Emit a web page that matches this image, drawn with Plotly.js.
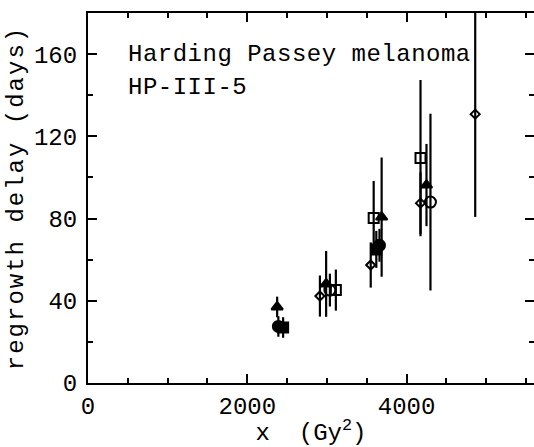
<!DOCTYPE html>
<html>
<head>
<meta charset="utf-8">
<script src="https://cdn.plot.ly/plotly-3.0.1.min.js"></script>
<style>
html,body{margin:0;padding:0;overflow:hidden;background:#fff;}
#chart{width:538px;height:447px;}
.ytitle{letter-spacing:2px;}
.annotation-text{letter-spacing:0.5px;}
</style>
</head>
<body>
<div id="chart"></div>
<script>
// Open diamonds
const diamondX = [2912, 3550, 4175, 4862];
const diamondY = [42.3, 57.4, 87.5, 130.8];
const diamondErr = [10, 11, 15, 50];
// Open squares
const squareX = [3112, 3587, 4175];
const squareY = [45.2, 80.3, 109.4];
const squareErr = [10, 18, 38];
// Open circles
const circleX = [3037, 4300];
const circleY = [45.2, 88];
const circleErr = [8, 43];
// Filled triangles
const triX = [2375, 2990, 3687, 4250];
const triY = [37, 48.2, 80.7, 96.3];
const triErr = [5, 16, 29, 20];
// Filled circles
const fcircX = [2390, 3660];
const fcircY = [27.5, 67];
const fcircErr = [5, 8];
// Filled squares
const fsqX = [2450, 3620];
const fsqY = [27, 65];
const fsqErr = [5, 9];

const xTicks = [0, 2000, 4000];
const yTicks = [0, 40, 80, 120, 160];
const label1 = "Harding Passey melanoma";
const label2 = "HP-III-5";

function series(x, y, err, symbol, size) {
  return {
    type: 'scatter', mode: 'markers', x: x, y: y,
    error_y: {type: 'data', array: err, visible: true, color: '#000', thickness: 2.2, width: 0},
    marker: {symbol: symbol, size: size, color: '#000', line: {color: '#000', width: 2}},
    showlegend: false, hoverinfo: 'skip'
  };
}

const data = [
  series(diamondX, diamondY, diamondErr, 'diamond-open', 7),
  series(squareX, squareY, squareErr, 'square-open', 10),
  series(circleX, circleY, circleErr, 'circle-open', 11),
  series(triX, triY, triErr, 'triangle-up', 10),
  series(fcircX, fcircY, fcircErr, 'circle', 11),
  series(fsqX, fsqY, fsqErr, 'square', 10)
];

const font = {family: 'Liberation Mono, DejaVu Sans Mono, monospace', size: 24, color: '#000'};

const axisCommon = {
  showline: true, linecolor: '#000', linewidth: 2, mirror: 'ticks',
  ticks: 'inside', ticklen: 9, tickwidth: 2, tickcolor: '#000',
  showgrid: false, zeroline: false, tickfont: font
};

const layout = {
  width: 538, height: 447,
  margin: {l: 88, r: 2, t: 13, b: 64},
  paper_bgcolor: '#fff', plot_bgcolor: '#fff',
  font: font,
  xaxis: Object.assign({}, axisCommon, {
    range: [0, 5600], tickvals: xTicks, ticktext: xTicks.map(String),
    minor: {ticks: 'inside', ticklen: 5, tickwidth: 2, tickcolor: '#000', dtick: 500, tick0: 0},
    ticklabelstandoff: 0,
    title: {text: 'x  (Gy<sup>2</sup>)', font: font, standoff: 24}
  }),
  yaxis: Object.assign({}, axisCommon, {
    range: [0, 180], tickvals: yTicks, ticktext: yTicks.map(String),
    minor: {ticks: 'inside', ticklen: 5, tickwidth: 2, tickcolor: '#000', dtick: 20, tick0: 0},
    ticklabelstandoff: 4, automargin: true,
    title: {text: 'regrowth delay (days)', font: font, standoff: 4}
  }),
  annotations: [
    {xref: 'x', yref: 'y', x: 480, y: 160, xanchor: 'left', yanchor: 'middle', text: label1, showarrow: false, font: font},
    {xref: 'x', yref: 'y', x: 480, y: 144, xanchor: 'left', yanchor: 'middle', text: label2, showarrow: false, font: font}
  ]
};

Plotly.newPlot('chart', data, layout, {displayModeBar: false, staticPlot: true});
</script>
</body>
</html>
